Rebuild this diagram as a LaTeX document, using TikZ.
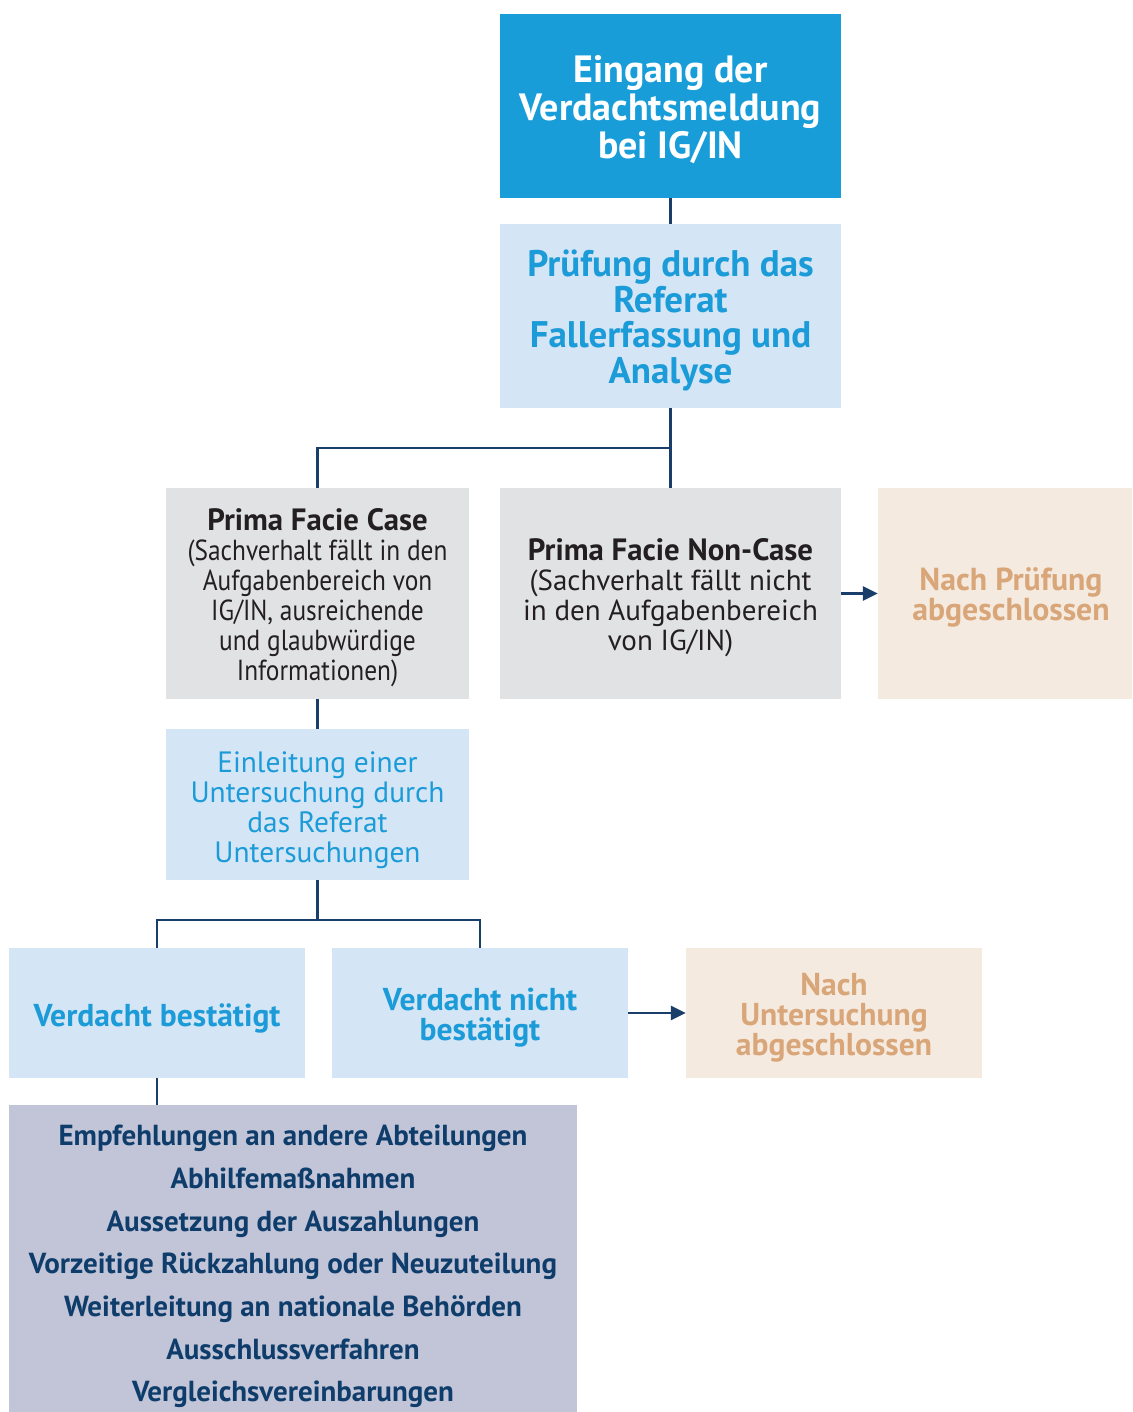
\documentclass[tikz,border=0pt]{standalone}
\usepackage{fontspec}
\setmainfont{PT Sans}
\newfontfamily\condfont{PT Sans}[FakeStretch=0.875]
\usetikzlibrary{arrows.meta}
\definecolor{topblue}{HTML}{189DD9}
\definecolor{lightblue}{HTML}{D4E5F5}
\definecolor{bluetext}{HTML}{1B9BD7}
\definecolor{greybox}{HTML}{E1E2E4}
\definecolor{beigebox}{HTML}{F5EAE0}
\definecolor{beigetext}{HTML}{D9A679}
\definecolor{lavender}{HTML}{C2C4D7}
\definecolor{navy}{HTML}{0F3D6B}
\definecolor{linecol}{HTML}{1A3E6A}
\definecolor{darktext}{HTML}{231F20}
\tikzset{
  box/.style={rectangle, inner sep=0pt, anchor=center},
  txt/.style={inner sep=0pt, align=center, anchor=center},
  conn/.style={draw=linecol, line width=2.8pt},
  arr/.style={conn, -{Triangle[length=15pt,width=14pt]}},
}
\begin{document}
\begin{tikzpicture}[x=1pt,y=-1pt]
\useasboundingbox (0,0) rectangle (1132,1412);
% boxes
\node[box, fill=topblue, minimum width=341pt, minimum height=184pt] (eing) at (670.5,106) {};
\node[box, fill=lightblue, minimum width=341pt, minimum height=184pt] (pruef) at (670.5,316) {};
\node[box, fill=greybox, minimum width=303pt, minimum height=211pt] (case) at (317.5,593.5) {};
\node[box, fill=greybox, minimum width=341pt, minimum height=211pt] (noncase) at (670.5,593.5) {};
\node[box, fill=beigebox, minimum width=254pt, minimum height=211pt] (nachp) at (1005,593.5) {};
\node[box, fill=lightblue, minimum width=303pt, minimum height=151pt] (einl) at (317.5,804.5) {};
\node[box, fill=lightblue, minimum width=296pt, minimum height=130pt] (vb) at (157,1013) {};
\node[box, fill=lightblue, minimum width=296pt, minimum height=130pt] (vnb) at (480,1013) {};
\node[box, fill=beigebox, minimum width=296pt, minimum height=130pt] (nachu) at (834,1013) {};
\node[box, fill=lavender, minimum width=568pt, minimum height=307pt] (list) at (293,1258.5) {};
% texts
\node[txt, text=white, font=\fontsize{38}{38}\selectfont\bfseries] (eingT) at (670.5,110) {Eingang der\\Verdachtsmeldung\\bei IG/IN};
\node[txt, text=bluetext, font=\fontsize{37}{35.5}\selectfont\bfseries] (pruefT) at (670.5,320.5) {Prüfung durch das\\Referat\\Fallerfassung und\\Analyse};
\node[txt, text=darktext, font=\fontsize{29}{30}\selectfont] (caseT) at (317.5,597.5) {{\fontsize{30.8}{30}\selectfont\bfseries Prima Facie Case}\\{\condfont(Sachverhalt fällt in den}\\{\condfont Aufgabenbereich von}\\{\condfont IG/IN, ausreichende}\\{\condfont und glaubwürdige}\\{\condfont Informationen)}};
\node[txt, text=darktext, font=\fontsize{29}{30}\selectfont] (noncaseT) at (670.5,597.5) {{\fontsize{30.8}{30}\selectfont\bfseries Prima Facie Non-Case}\\(Sachverhalt fällt nicht\\in den Aufgabenbereich\\von IG/IN)};
\node[txt, text=beigetext, font=\fontsize{31.8}{30}\selectfont\bfseries] (nachpT) at (1011,597.5) {Nach Prüfung\\abgeschlossen};
\node[txt, text=bluetext, font=\fontsize{29.4}{30}\selectfont] (einlT) at (317.5,810) {Einleitung einer\\Untersuchung durch\\das Referat\\Untersuchungen};
\node[txt, text=bluetext, font=\fontsize{31.6}{30}\selectfont\bfseries] (vbT) at (157,1018) {Verdacht bestätigt};
\node[txt, text=bluetext, font=\fontsize{31.6}{30}\selectfont\bfseries] (vnbT) at (480,1018) {Verdacht nicht\\bestätigt};
\node[txt, text=beigetext, font=\fontsize{31.6}{30}\selectfont\bfseries] (nachuT) at (834,1018) {Nach\\Untersuchung\\abgeschlossen};
\node[txt, text=navy, font=\fontsize{29}{42.7}\selectfont\bfseries] (listT) at (293,1266.5) {Empfehlungen an andere Abteilungen\\Abhilfemaßnahmen\\Aussetzung der Auszahlungen\\Vorzeitige Rückzahlung oder Neuzuteilung\\Weiterleitung an nationale Behörden\\Ausschlussverfahren\\Vergleichsvereinbarungen};
% connectors
\coordinate (j1) at (670.5,448);
\coordinate (j2) at (317.5,920);
\draw[conn] (eing.south) -- (pruef.north);
\draw[conn] (pruef.south) -- (noncase.north);
\draw[conn] (j1) -| (case.north);
\draw[conn] (case.south) -- (einl.north);
\draw[conn] (einl.south) -- (j2);
\draw[conn] (j2) -| (vb.north);
\draw[conn] (j2) -| (vnb.north);
\draw[conn] (vb.south) -- (vb.south |- list.north);
\draw[arr] (noncase.east) -- (nachp.west);
\draw[arr] (vnb.east) -- (nachu.west);
\end{tikzpicture}
\end{document}
